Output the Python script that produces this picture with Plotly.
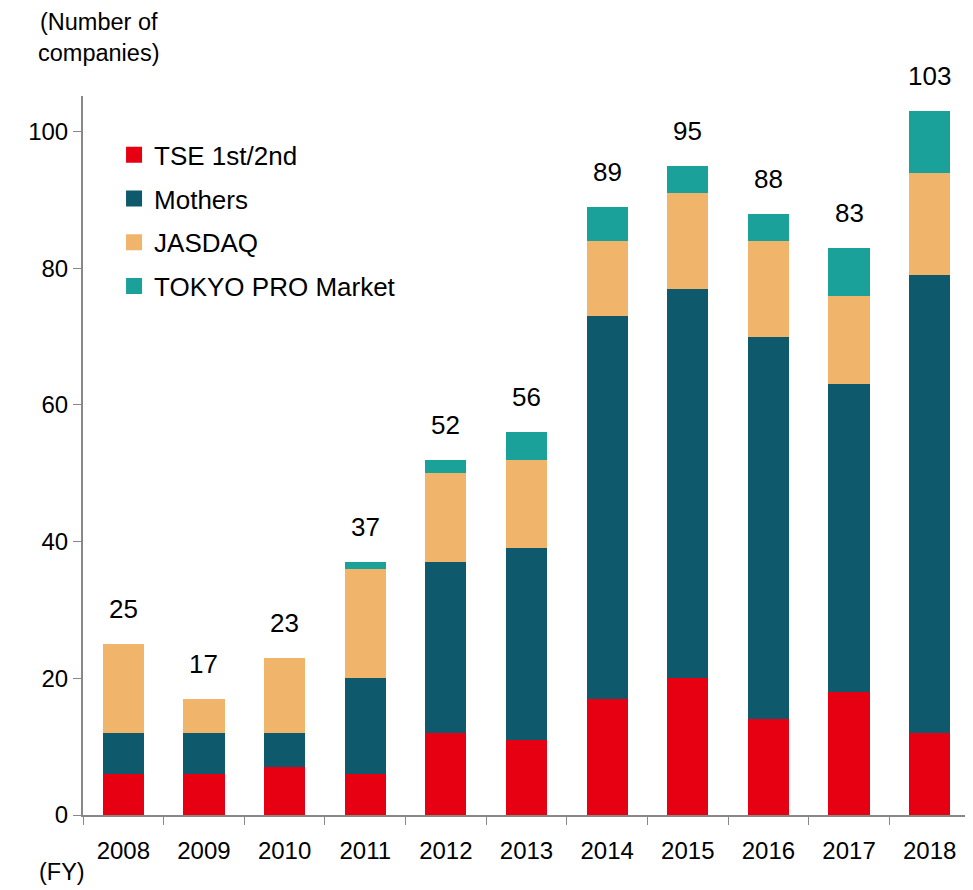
import plotly.graph_objects as go

# Data
years   = ['2008','2009','2010','2011','2012','2013','2014','2015','2016','2017','2018']
tse     = [6, 6, 7, 6, 12, 11, 17, 20, 14, 18, 12]
mothers = [6, 6, 5, 14, 25, 28, 56, 57, 56, 45, 67]
jasdaq  = [13, 5, 11, 16, 13, 13, 11, 14, 14, 13, 15]
pro     = [0, 0, 0, 1, 2, 4, 5, 4, 4, 7, 9]
totals  = [25, 17, 23, 37, 52, 56, 89, 95, 88, 83, 103]

series = [
  ('TSE 1st/2nd', tse, '#E60012'),
  ('Mothers', mothers, '#0E596B'),
  ('JASDAQ', jasdaq, '#F0B46A'),
  ('TOKYO PRO Market', pro, '#1AA29A'),
]

fig = go.Figure()
for i, (name, vals, color) in enumerate(series):
  fig.add_trace(go.Bar(
    x=years, y=vals, name=name, showlegend=False,
    marker=dict(color=color, line=dict(width=0)),
  ))
# legend entries with bigger square symbols
for i, (name, vals, color) in enumerate(series):
  fig.add_trace(go.Scatter(
    x=[years[0]], y=[None], name=name, mode='markers',
    marker=dict(symbol='square', size=17, color=color),
    legendgroup=f"g{i}",
  ))

# total labels above bars (category index, numeric-looking strings would be read as indices)
for i, tot in enumerate(totals):
  fig.add_annotation(x=i, y=tot, text=str(tot), showarrow=False,
                     yanchor='bottom', yshift=18, font=dict(size=26, color='black'))

fig.add_annotation(xref='paper', yref='paper', x=0.018, y=1.039, xanchor='center',
                   yanchor='bottom', showarrow=False, align='center',
                   text="(Number of<br>companies)", font=dict(size=23.5, color='black'))
fig.add_annotation(xref='paper', yref='paper', x=-0.024, y=-0.079, xanchor='center',
                   yanchor='middle', showarrow=False,
                   text="(FY)", font=dict(size=23.5, color='black'))

# page body has an 8px margin, so the figure is shrunk/shifted to line up
fig.update_layout(
  barmode='stack', bargap=0.49,
  width=965, height=882,
  margin=dict(l=75, r=3, t=88, b=75),
  plot_bgcolor='white', paper_bgcolor='white',
  font=dict(family='Arial, Liberation Sans, sans-serif', size=24, color='black'),
  showlegend=True,
  legend=dict(x=0.035, y=0.951, xanchor='left', yanchor='top',
              traceorder='grouped', tracegroupgap=7,
              font=dict(size=26), bgcolor='rgba(0,0,0,0)'),
  xaxis=dict(type='category', range=[-0.5, len(years)-0.5],
             showline=True, linecolor='#888888', linewidth=2,
             ticks='outside', tickson='boundaries', ticklen=8, tickcolor='#888888',
             ticklabelstandoff=13, showgrid=False),
  yaxis=dict(range=[0, 105.2], tickvals=[0, 20, 40, 60, 80, 100],
             showline=True, linecolor='#888888', linewidth=2,
             ticks='outside', ticklen=8, tickcolor='#888888',
             showgrid=False, zeroline=False),
)

fig.write_html("out.html")
